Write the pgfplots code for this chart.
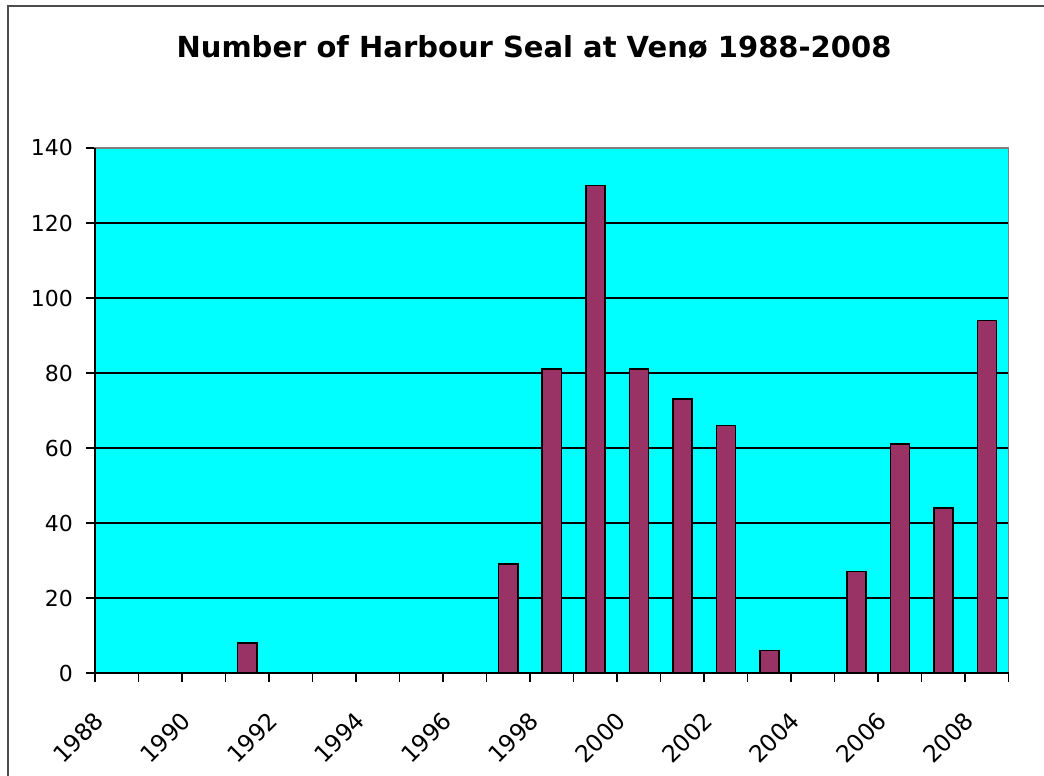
\documentclass[border=0pt]{standalone}
\usepackage{fontspec}
\setmainfont{DejaVu Sans}
\usepackage{pgfplots}
\pgfplotsset{compat=1.18}
\definecolor{plotbg}{HTML}{00FFFF}
\definecolor{barfill}{HTML}{993366}
\definecolor{framegray}{HTML}{4D4D4D}
\definecolor{bordergray}{HTML}{808080}
\begin{document}
\begin{tikzpicture}[x=1pt,y=1pt]
\useasboundingbox (0,0) rectangle (1044,776);
\draw[framegray, line width=2pt] (8,-2) -- (8,769.5) -- (1046,769.5);
\node[anchor=base, font=\fontsize{29}{33}\selectfont\bfseries] at (534,718) {Number of Harbour Seal at Venø 1988-2008};
\begin{axis}[
  at={(95pt,103pt)}, anchor=south west,
  scale only axis, width=913.5pt, height=525pt,
  xmin=1987.5, xmax=2008.5, ymin=0, ymax=140,
  ytick={0,20,40,60,80,100,120,140},
  xtick={1987.5,1989.5,1991.5,1993.5,1995.5,1997.5,1999.5,2001.5,2003.5,2005.5,2007.5},
  xticklabels={1988,1990,1992,1994,1996,1998,2000,2002,2004,2006,2008},
  minor xtick={1988.5,1990.5,1992.5,1994.5,1996.5,1998.5,2000.5,2002.5,2004.5,2006.5,2008.5},
  axis background/.style={fill=plotbg},
  ymajorgrids, major grid style={black, line width=1.5pt},
  axis line style={bordergray, line width=1.5pt},
  tick style={black, line width=1.5pt},
  tick align=outside, xtick pos=bottom, ytick pos=left,
  major tick length=9pt, minor tick length=9pt,
  /pgf/number format/assume math mode=true,
  ticklabel style={text=black},
  xticklabel style={font=\fontsize{23.5}{26}\selectfont, anchor=north east, inner sep=0pt, xshift=-2pt, yshift=-28pt, rotate=45},
  yticklabel style={font=\fontsize{22}{25}\selectfont, anchor=east, inner sep=0pt, xshift=-13pt},
  clip=false,
]
\addplot[ybar, bar width=0.437, fill=barfill, draw=black, line width=1.5pt] coordinates {
(1988,0) (1989,0) (1990,0) (1991,8) (1992,0) (1993,0) (1994,0) (1995,0) (1996,0)
(1997,29) (1998,81) (1999,130) (2000,81) (2001,73) (2002,66) (2003,6) (2004,0)
(2005,27) (2006,61) (2007,44) (2008,94)
};
\draw[black, line width=1.5pt] (rel axis cs:0,1) -- (rel axis cs:0,0) -- (rel axis cs:1,0);
\end{axis}
\end{tikzpicture}
\end{document}
